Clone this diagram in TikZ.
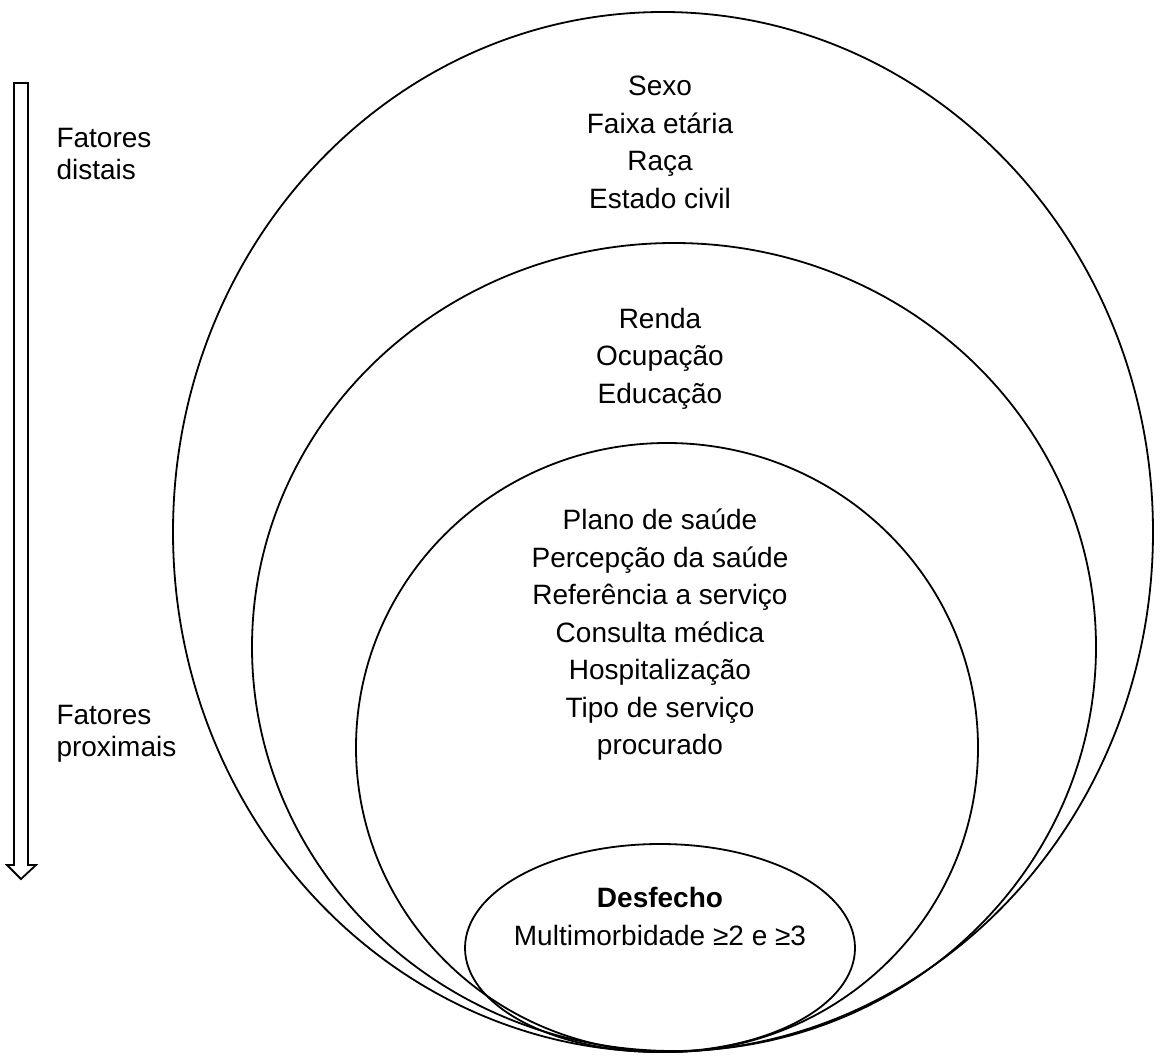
\documentclass[tikz,border=0pt]{standalone}
\usepackage{fontspec}
\setmainfont{Liberation Sans}
\begin{document}
\begin{tikzpicture}[x=1pt, y=-1pt,
    ring/.style={draw, line width=1.8pt},
    layer/.style={align=center, font=\fontsize{28}{37.5}\selectfont},
    side/.style={align=left, anchor=west, font=\fontsize{28}{32}\selectfont}]
  \useasboundingbox (0,0) rectangle (1160,1057);

  \draw[ring] (663,532) ellipse [x radius=490pt, y radius=520pt];
  \draw[ring] (674,647) ellipse [x radius=422pt, y radius=404pt];
  \draw[ring] (667,747.5) ellipse [x radius=311pt, y radius=304.5pt];
  \draw[ring] (660,948) ellipse [x radius=195pt, y radius=104pt];

  \node[layer] (demo) at (660,142.5) {Sexo\\Faixa etária\\Raça\\Estado civil};
  \node[layer] (socio) at (660,358.5) {Renda\\Ocupação\\Educação};
  \node[layer] (servico) at (660,635) {Plano de saúde\\Percepção da saúde\\Referência a serviço\\Consulta médica\\Hospitalização\\Tipo de serviço\\procurado};
  \node[layer] (desfecho) at (660,916.5) {\textbf{Desfecho}\\Multimorbidade ≥2 e ≥3};

  \node[side] (distais) at (53,154) {Fatores\\distais};
  \node[side] (proximais) at (53,734) {Fatores\\proximais};

  \draw[line width=1.8pt, line join=miter] (14,83) -- (28,83) -- (28,865) -- (36,865)
    -- (21,879) -- (7,865) -- (14,865) -- cycle;
\end{tikzpicture}
\end{document}
